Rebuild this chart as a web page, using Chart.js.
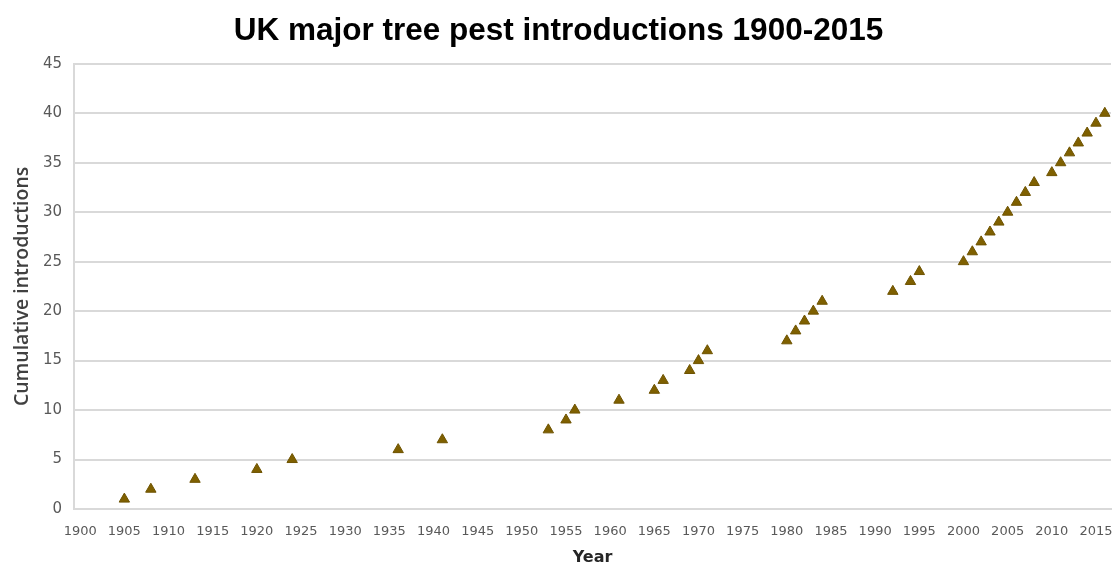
<!DOCTYPE html>
<html>
<head>
<meta charset="utf-8">
<script src="https://cdn.jsdelivr.net/npm/chart.js@4"></script>
<style>
  html, body { margin: 0; padding: 0; background: #fff; }
  #wrap { width: 1118px; height: 567px; }
</style>
</head>
<body>
<div id="wrap"><canvas id="pestChart"></canvas></div>
<script>
// year of each introduction and the running total
const years = [1905, 1908, 1913, 1920, 1924, 1936, 1941, 1953, 1955, 1956,
  1961, 1965, 1966, 1969, 1970, 1971, 1980, 1981, 1982, 1983,
  1984, 1992, 1994, 1995, 2000, 2001, 2002, 2003, 2004, 2005,
  2006, 2007, 2008, 2010, 2011, 2012, 2013, 2014, 2015, 2016];
const cumulative = [1, 2, 3, 4, 5, 6, 7, 8, 9, 10,
  11, 12, 13, 14, 15, 16, 17, 18, 19, 20,
  21, 22, 23, 24, 25, 26, 27, 28, 29, 30,
  31, 32, 33, 34, 35, 36, 37, 38, 39, 40];
const xTickYears = [1900, 1905, 1910, 1915, 1920, 1925, 1930, 1935, 1940, 1945, 1950, 1955,
  1960, 1965, 1970, 1975, 1980, 1985, 1990, 1995, 2000, 2005, 2010, 2015];

const points = years.map((y, i) => ({ x: y, y: cumulative[i] }));

const gridGrey = '#d9d9d9';
const tickGrey = '#595959';

const chart = new Chart(document.getElementById('pestChart'), {
  type: 'scatter',
  data: {
    datasets: [{
      label: 'Introductions',
      data: points,
      pointStyle: 'triangle',
      radius: 6,
      hoverRadius: 6,
      backgroundColor: '#7f6000',
      borderColor: '#6e5300',
      borderWidth: 1,
      clip: false
    }]
  },
  options: {
    responsive: true,
    maintainAspectRatio: false,
    animation: false,
    layout: {
      padding: { top: 0, right: 1, bottom: 0, left: 0 }
    },
    plugins: {
      legend: { display: false },
      tooltip: { enabled: false },
      title: {
        display: true,
        text: 'UK major tree pest introductions 1900-2015',
        color: '#000',
        font: { family: 'Liberation Sans', size: 31.5, weight: 'bold' },
        padding: { top: 12, bottom: 14 }
      }
    },
    scales: {
      x: {
        type: 'linear',
        min: 1899.3,
        max: 2016.7,
        afterBuildTicks: (scale) => {
          scale.ticks = xTickYears.map(v => ({ value: v }));
        },
        afterFit: (scale) => {
          scale.height = 58;
          // keep the plot running to the right edge like the original
          scale.paddingLeft = 0;
          scale.paddingRight = 0;
        },
        grid: { display: false, drawTicks: false },
        border: { display: true, color: gridGrey, width: 2 },
        ticks: {
          color: tickGrey,
          font: { family: 'DejaVu Sans', size: 13 },
          padding: 15,
          maxRotation: 0,
          autoSkip: false,
          callback: (v) => String(v)
        },
        title: {
          display: true,
          text: 'Year',
          color: '#262626',
          font: { family: 'DejaVu Sans', size: 16, weight: 'bold', lineHeight: 1 },
          padding: { top: 0, bottom: 1 }
        }
      },
      y: {
        min: 0,
        max: 45,
        afterFit: (scale) => { scale.width = 74; },
        grid: { color: gridGrey, lineWidth: 2, drawTicks: false },
        border: { display: true, color: gridGrey, width: 2 },
        ticks: {
          stepSize: 5,
          color: tickGrey,
          font: { family: 'DejaVu Sans', size: 15 },
          padding: 12
        },
        title: {
          display: true,
          text: 'Cumulative introductions',
          color: '#404040',
          font: { family: 'Open Sans', size: 19.5, weight: '600' },
          padding: { top: 11, bottom: 0 }
        }
      }
    }
  }
});
</script>
</body>
</html>
